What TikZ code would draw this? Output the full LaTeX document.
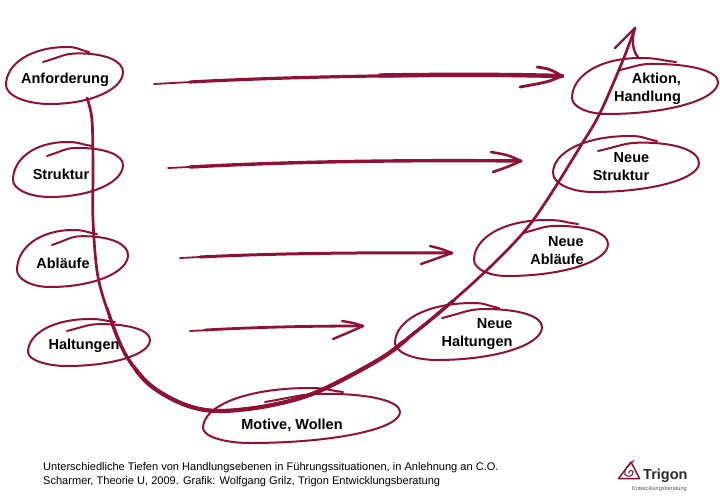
\documentclass[tikz,border=0pt]{standalone}
\usepackage{fontspec}
\setmainfont{Liberation Sans}
\usetikzlibrary{calc}
\definecolor{pen}{HTML}{8F1236}
\definecolor{logotext}{HTML}{2B2B2B}
\tikzset{
  inkloop/.style={draw=pen,line width=2pt,line cap=round,line join=round},
  inkline/.style={draw=pen,line cap=round,line join=round},
  label/.style={font=\fontsize{14.5}{18}\selectfont\bfseries,text=black,inner sep=0pt,align=right},
  caption/.style={font=\fontsize{11.05}{14}\selectfont,text=black,inner sep=0pt,anchor=west}
}
% start, right, bottom, left, top, end
\newcommand{\handloop}[6]{%
  \coordinate (S) at (#1); \coordinate (R) at (#2); \coordinate (B) at (#3);
  \coordinate (L) at (#4); \coordinate (T) at (#5); \coordinate (E) at (#6);
  \coordinate (A) at ($(T)+0.12*(R)-0.12*(L)+0.14*(B)-0.14*(T)$);
  \draw[inkloop] (S) .. controls ($(S)!.55!(A)+(0,-1)$) and ($(A)!.4!(S|-A)$) .. (A)
    .. controls ($(A)!.6!(R|-A)$) and ($(R)!.6!(R|-A)$) .. (R)
    .. controls ($(R)!.55!(R|-B)$) and ($(B)!.55!(R|-B)$) .. (B)
    .. controls ($(B)!.55!(L|-B)$) and ($(L)!.55!(L|-B)$) .. (L)
    .. controls ($(L)!.55!(L|-T)$) and ($(T)!.6!(L|-T)$) .. (T)
    .. controls ($(T)!.5!(E|-T)$) and ($(E)!.5!(T)$) .. (E);}
\newcommand{\ucurve}{plot[smooth,tension=.55] coordinates {(us) (92,120) (93,170) (93,220) (98,277) (112,323) (127,357) (150,385) (183,404) (217,411) (267,406) (317,392) (380,359) (413,334) (447,306) (487,270) (523,233) (547,200) (580,147) (600,113) (623,60) (ut)}}
\begin{document}
\begin{tikzpicture}[x=1pt,y=-1pt]
\useasboundingbox (0,0) rectangle (720,498);
% loops
\handloop{43,62}{123,72}{50,104}{6,85}{67,47}{89,52}
\handloop{47,156}{123,165}{50,197}{13,180}{67,142}{92,146}
\handloop{52,245}{128,255}{50,287}{17,270}{73,230}{97,234}
\handloop{67,331}{150,340}{67,366}{28,352}{90,319}{115,322}
\handloop{265,402}{400,412}{250,443}{203,428}{310,388}{343,392}
\handloop{442,318}{542,327}{437,360}{395,343}{473,303}{499,308}
\handloop{523,233}{608,244}{507,276}{474,260}{547,220}{578,224}
\handloop{598,151}{699,163}{593,192}{553,173}{630,136}{657,141}
\handloop{620,70}{718,82}{607,114}{572,98}{640,58}{676,62}
% labels
\node[label] (anf) at (65,80) {Anforderung};
\node[label] (str) at (61,174) {Struktur};
\node[label] (abl) at (63,263) {Abläufe};
\node[label] (hal) at (84,346) {Haltungen};
\node[label] (mot) at (292,425) {Motive, Wollen};
\node[label] (akt) at (647.5,89) {Aktion,\\Handlung};
\node[label] (nst) at (621,167) {Neue\\Struktur};
\node[label] (nab) at (557,251) {Neue\\Abläufe};
\node[label] (nha) at (477,334) {Neue\\Haltungen};
% arrow ends
\coordinate (a1s) at (154,84); \coordinate (a1e) at (562,76);
\coordinate (a2s) at (168,168); \coordinate (a2e) at (521,161);
\coordinate (a3s) at (180,258); \coordinate (a3e) at (452,253);
\coordinate (a4s) at (190,331); \coordinate (a4e) at (363,326);
\draw[inkline,line width=1.8pt] (a1s) -- (200,81.5);
\draw[inkline,line width=3.2pt] (190,82) .. controls (300,76) and (450,74) .. (a1e);
\draw[inkline,line width=4.4pt] (380,75.5) .. controls (450,74.5) and (500,74.5) .. (a1e);
\draw[inkline,line width=2.8pt] (537,67) .. controls (550,69) .. (a1e) .. controls (548,82) .. (520,87);
\draw[inkline,line width=1.8pt] (a2s) -- (200,166.5);
\draw[inkline,line width=3.4pt] (190,167) .. controls (300,161) and (420,160) .. (a2e);
\draw[inkline,line width=2.6pt] (491,152) .. controls (508,155) .. (a2e) .. controls (510,166) .. (493,172);
\draw[inkline,line width=1.8pt] (a3s) -- (210,256.5);
\draw[inkline,line width=3pt] (200,257) .. controls (280,253) and (370,252.5) .. (a3e);
\draw[inkline,line width=2.4pt] (430,246) .. controls (442,249) .. (a3e) .. controls (438,258) .. (421,264);
\draw[inkline,line width=1.8pt] (a4s) -- (210,330);
\draw[inkline,line width=2.8pt] (205,330) .. controls (260,327) and (310,326) .. (a4e);
\draw[inkline,line width=2.4pt] (342,321) .. controls (354,323) .. (a4e) .. controls (352,331) .. (333,339);
% main U curve
\coordinate (us) at (87,98); \coordinate (ut) at (635,28);
\draw[inkline,line width=2.7pt] \ucurve;
\begin{scope}
  \clip (108,300) rectangle (500,430);
  \draw[inkline,line width=3.4pt] \ucurve;
\end{scope}
\begin{scope}
  \clip (135,340) rectangle (440,430);
  \draw[inkline,line width=4.2pt] \ucurve;
\end{scope}
\draw[inkline,line width=2.4pt] (615,48) -- (ut) .. controls (631,40) and (633,52) .. (638,57);
% caption
\node[caption] (cap1) at (43,468) {Unterschiedliche Tiefen von Handlungsebenen in Führungssituationen, in Anlehnung an C.O.};
\node[caption] (cap2) at (43,482) {Scharmer, Theorie U, 2009. Grafik: Wolfgang Grilz, Trigon Entwicklungsberatung};
% logo
\draw[pen,line width=1.5pt,line join=round] (618.5,478.5) -- (631,462) -- (639.5,478.5) -- cycle;
\draw[pen,line width=1.1pt] (634,460.5) .. controls (628,466) and (623,470) .. (625,474.5) .. controls (627,478) and (634,476) .. (633,472) .. controls (632,469) and (628,471) .. (629,473.5);
\node[font=\fontsize{14.5}{14.5}\selectfont\bfseries,text=logotext,inner sep=0pt,anchor=base west] (tri) at (643,479) {Trigon};
\node[font=\fontsize{5.6}{6}\selectfont,text=logotext!80,inner sep=0pt,anchor=base east] (ent) at (687,490) {Entwicklungsberatung};
\end{tikzpicture}
\end{document}
